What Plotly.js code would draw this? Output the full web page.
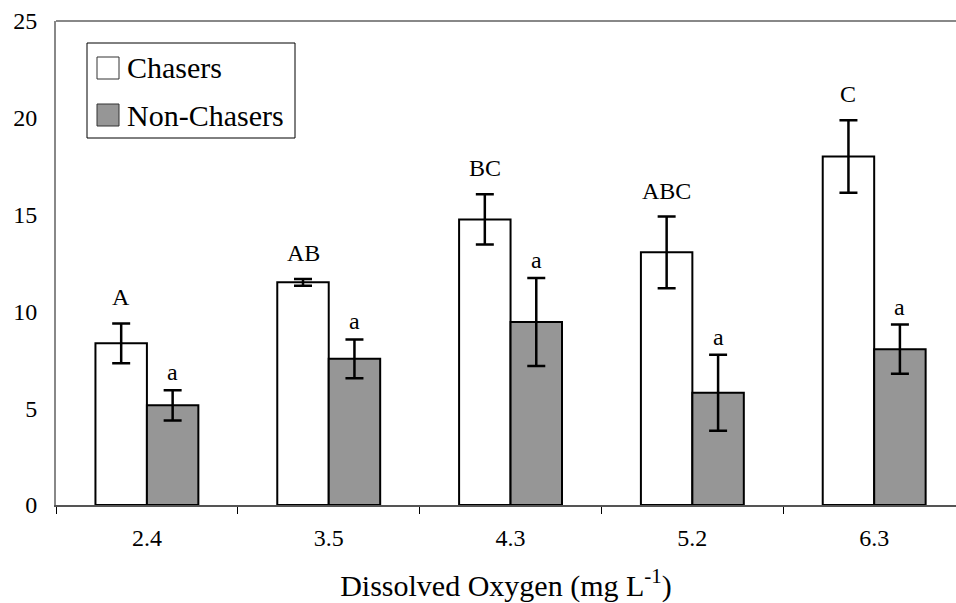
<!DOCTYPE html>
<html><head><meta charset="utf-8">
<script src="https://cdn.plot.ly/plotly-3.0.1.min.js"></script>
<style>body{margin:0;background:#fff}</style>
</head><body><div id="chart" style="width:956px;height:603px"></div>
<script>
const categories = ['2.4', '3.5', '4.3', '5.2', '6.3'];
const chasers = [8.35, 11.5, 14.75, 13.05, 18.0];
const chasersErr = [1.03, 0.18, 1.3, 1.85, 1.87];
const nonChasers = [5.15, 7.55, 9.45, 5.8, 8.05];
const nonChasersErr = [0.78, 1.0, 2.27, 1.96, 1.27];
const chasersLetters = ['A', 'AB', 'BC', 'ABC', 'C'];
const nonChasersLetters = ['a', 'a', 'a', 'a', 'a'];
const seriesNames = ['Chasers', 'Non-Chasers'];
const xTitle = 'Dissolved Oxygen (mg L<sup>-1</sup>)';

const FONT = '"Liberation Serif", "Times New Roman", serif';
const W = 956, H = 603, ML = 56, MR = 0, MT = 21, MB = 98;
const PW = W - ML - MR, PH = H - MT - MB;
const px = x => (x - ML) / PW;
const py = y => (H - MB - y) / PH;

const barLine = {color: '#000', width: 2};
const errStyle = (arr) => ({type: 'data', array: arr, visible: true, color: '#000', thickness: 2.5, width: 9});

const traces = [
  {type: 'bar', name: seriesNames[0], x: categories, y: chasers,
   marker: {color: '#ffffff', line: barLine}, error_y: errStyle(chasersErr), showlegend: false},
  {type: 'bar', name: seriesNames[1], x: categories, y: nonChasers,
   marker: {color: '#969696', line: barLine}, error_y: errStyle(nonChasersErr), showlegend: false}
];

const annotations = [];
categories.forEach((c, i) => {
  annotations.push({xref: 'x', yref: 'y', x: i, y: chasers[i] + chasersErr[i], xshift: -25.7, yshift: 11,
    yanchor: 'bottom', text: chasersLetters[i], showarrow: false, font: {family: FONT, size: 24, color: '#000'}});
  annotations.push({xref: 'x', yref: 'y', x: i, y: nonChasers[i] + nonChasersErr[i], xshift: 25.7, yshift: 3,
    yanchor: 'bottom', text: nonChasersLetters[i], showarrow: false, font: {family: FONT, size: 24, color: '#000'}});
});
// legend text
annotations.push({xref: 'paper', yref: 'paper', x: px(125), y: py(68), xanchor: 'left', yanchor: 'middle',
  text: seriesNames[0], showarrow: false, font: {family: FONT, size: 30, color: '#000'}});
annotations.push({xref: 'paper', yref: 'paper', x: px(125), y: py(116), xanchor: 'left', yanchor: 'middle',
  text: seriesNames[1], showarrow: false, font: {family: FONT, size: 30, color: '#000'}});

const shapes = [
  {type: 'line', xref: 'paper', yref: 'paper', x0: 0, x1: 1, y0: 1, y1: 1, line: {color: '#888', width: 2}},
  {type: 'rect', xref: 'paper', yref: 'paper', x0: px(87), x1: px(295), y0: py(43), y1: py(138),
   line: {color: '#000', width: 1}, fillcolor: 'rgba(0,0,0,0)'},
  {type: 'rect', xref: 'paper', yref: 'paper', x0: px(97), x1: px(119), y0: py(57), y1: py(79),
   line: {color: '#333', width: 1}, fillcolor: '#ffffff'},
  {type: 'rect', xref: 'paper', yref: 'paper', x0: px(97), x1: px(119), y0: py(104), y1: py(126),
   line: {color: '#333', width: 1}, fillcolor: '#969696'}
];

const layout = {
  width: W, height: H,
  margin: {l: ML, r: MR, t: MT, b: MB},
  paper_bgcolor: '#fff', plot_bgcolor: '#fff',
  barmode: 'group', bargap: 0.434, bargroupgap: 0,
  showlegend: false,
  font: {family: FONT, size: 24, color: '#000'},
  xaxis: {
    type: 'category', range: [-0.5, 4.45], showgrid: false, zeroline: false,
    showline: true, linecolor: '#555', linewidth: 2,
    ticks: 'outside', tickson: 'boundaries', ticklen: 7, tickwidth: 1, tickcolor: '#000',
    ticklabelstandoff: 10,
    tickfont: {family: FONT, size: 24, color: '#000'},
    title: {text: xTitle, font: {family: FONT, size: 30, color: '#000'}, standoff: 28}
  },
  yaxis: {
    range: [0, 25], tickvals: [0, 5, 10, 15, 20, 25], showgrid: false, zeroline: false,
    showline: true, linecolor: '#888', linewidth: 2, ticks: '', ticklabelstandoff: 12,
    tickfont: {family: FONT, size: 24, color: '#000'}
  },
  annotations: annotations,
  shapes: shapes
};

Plotly.newPlot('chart', traces, layout, {displayModeBar: false, staticPlot: true});
</script>
</body></html>
